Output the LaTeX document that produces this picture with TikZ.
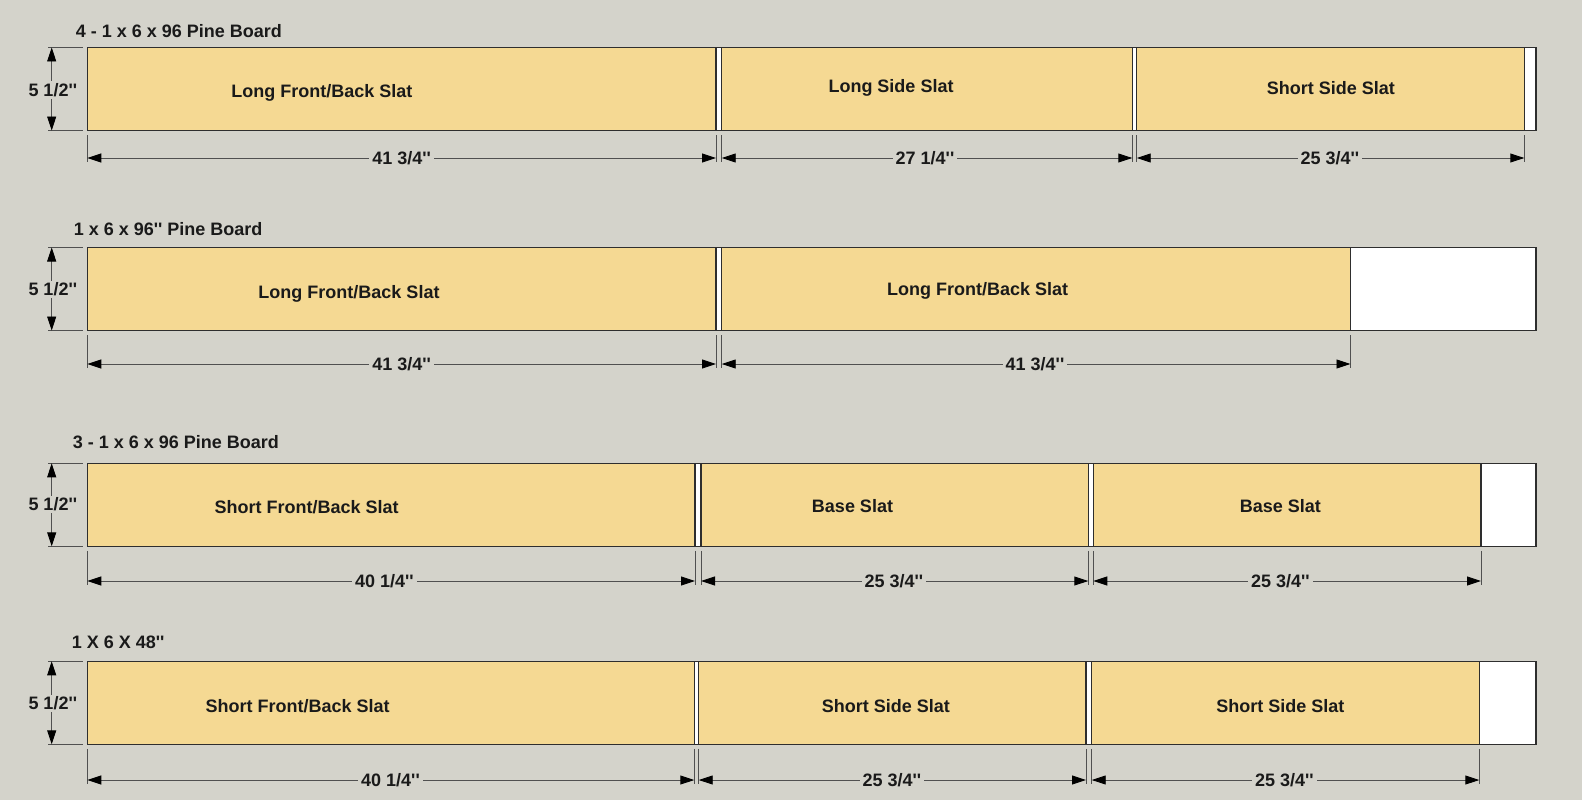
\documentclass[tikz,border=0pt]{standalone}
\usepackage{fontspec}
\newfontfamily\arial{Liberation Sans}
\usetikzlibrary{arrows.meta}
\definecolor{bg}{HTML}{D4D3CB}
\definecolor{pine}{HTML}{F5D993}
\definecolor{edge}{HTML}{2E2E2E}
\definecolor{dimc}{HTML}{505050}
\definecolor{txt}{HTML}{1A1A1A}
\tikzset{
  boardbox/.style={draw=edge, fill=white, line width=1.3pt, inner sep=0pt, outer sep=0pt, anchor=north west, minimum height=83pt},
  slatbox/.style={boardbox, fill=pine},
  lbl/.style={font=\arial\bfseries\fontsize{18}{20}\selectfont, text=txt, inner sep=0pt},
  slatlbl/.style={lbl, yshift=-1.6pt},
  titlelbl/.style={lbl, anchor=west},
  dimlbl/.style={lbl, fill=bg, inner xsep=3pt, inner ysep=2pt},
  tip/.tip={Triangle[length=14pt,width=9pt,color=black]},
  dimline/.style={draw=dimc, line width=0.9pt, tip-tip},
  extline/.style={draw=dimc, line width=0.8pt}
}
% slat: name, x1, x2, top
\newcommand\slatnode[4]{\node[slatbox, minimum width={(#3-#2)*1pt}] (#1) at (#2,#4) {};}
\newcommand\boardnode[4]{\node[boardbox, minimum width={(#3-#2)*1pt}] (#1) at (#2,#4) {};}
% hdim: name, x1, x2, bottom, dimy, labelx, text
\newcommand\hdim[7]{%
  \coordinate (#1a) at (#2,#5);
  \coordinate (#1b) at (#3,#5);
  \coordinate (#1a0) at (#2,#4+4.5);
  \coordinate (#1b0) at (#3,#4+4.5);
  \coordinate (#1a1) at (#2,#5+4);
  \coordinate (#1b1) at (#3,#5+4);
  \draw[extline] (#1a0) -- (#1a1);
  \draw[extline] (#1b0) -- (#1b1);
  \draw[dimline] (#1a) -- (#1b);
  \node[dimlbl] (#1t) at (#6,#5) {#7};
}
% vdim: name, top, bottom, labely
\newcommand\vdim[4]{%
  \coordinate (#1t0) at (48,#2);
  \coordinate (#1t1) at (83,#2);
  \coordinate (#1b0) at (48,#3);
  \coordinate (#1b1) at (83,#3);
  \coordinate (#1a) at (51.7,#2);
  \coordinate (#1b) at (51.7,#3);
  \draw[extline] (#1t0) -- (#1t1);
  \draw[extline] (#1b0) -- (#1b1);
  \draw[dimline] (#1a) -- (#1b);
  \node[dimlbl, inner xsep=1pt] (#1l) at (52.8,#4) {5 1/2''};
}
\begin{document}
\begin{tikzpicture}[x=1pt,y=-1pt]
\fill[bg] (0,0) rectangle (1582,800);
\useasboundingbox (0,0) rectangle (1582,800);

% ---------- Row 1 ----------
\node[titlelbl] (t1) at (75.7,31) {4 - 1 x 6 x 96 Pine Board};
\boardnode{b1}{87.3}{1536}{47.5}
\slatnode{s11}{87.3}{716}{47.5}
\slatnode{s12}{721.7}{1132.3}{47.5}
\slatnode{s13}{1136.7}{1524.3}{47.5}
\node[slatlbl] (l11) at (321.8,91.5) {Long Front/Back Slat};
\node[slatlbl] (l12) at (891,86.5) {Long Side Slat};
\node[slatlbl] (l13) at (1330.8,86.5) {Short Side Slat};
\vdim{v1}{47.5}{130.5}{90}
\hdim{d11}{87.3}{716}{130.5}{158}{401.6}{41 3/4''}
\hdim{d12}{721.7}{1132.3}{130.5}{158}{925}{27 1/4''}
\hdim{d13}{1136.7}{1524.3}{130.5}{158}{1329.8}{25 3/4''}

% ---------- Row 2 ----------
\node[titlelbl] (t2) at (73.6,229.5) {1 x 6 x 96'' Pine Board};
\boardnode{b2}{87.3}{1536}{247.5}
\slatnode{s21}{87.3}{716}{247.5}
\slatnode{s22}{721.7}{1350.5}{247.5}
\node[slatlbl] (l21) at (349,292.5) {Long Front/Back Slat};
\node[slatlbl] (l22) at (977.7,289.5) {Long Front/Back Slat};
\vdim{v2}{247.5}{330.5}{289.5}
\hdim{d21}{87.3}{716}{330.5}{364}{401.6}{41 3/4''}
\hdim{d22}{721.7}{1350.5}{330.5}{364}{1035}{41 3/4''}

% ---------- Row 3 ----------
\node[titlelbl] (t3) at (72.6,442) {3 - 1 x 6 x 96 Pine Board};
\boardnode{b3}{87.3}{1536}{463.3}
\slatnode{s31}{87.3}{695}{463.3}
\slatnode{s32}{701}{1088.3}{463.3}
\slatnode{s33}{1093.3}{1481}{463.3}
\node[slatlbl] (l31) at (306.7,505.5) {Short Front/Back Slat};
\node[slatlbl] (l32) at (852.5,504.5) {Base Slat};
\node[slatlbl] (l33) at (1280.4,504.5) {Base Slat};
\vdim{v3}{463.3}{546.3}{504.5}
\hdim{d31}{87.3}{695}{546.3}{581}{384.4}{40 1/4''}
\hdim{d32}{701}{1088.3}{546.3}{581}{893.9}{25 3/4''}
\hdim{d33}{1093.3}{1481}{546.3}{581}{1280.4}{25 3/4''}

% ---------- Row 4 ----------
\node[titlelbl] (t4) at (71.7,642) {1 X 6 X 48''};
\boardnode{b4}{87.3}{1536}{661.3}
\slatnode{s41}{87.3}{694.3}{661.3}
\slatnode{s42}{698.7}{1086}{661.3}
\slatnode{s43}{1091.7}{1479.3}{661.3}
\node[slatlbl] (l41) at (297.6,704.2) {Short Front/Back Slat};
\node[slatlbl] (l42) at (885.8,704.2) {Short Side Slat};
\node[slatlbl] (l43) at (1280.4,704.2) {Short Side Slat};
\vdim{v4}{661.3}{744.3}{703.5}
\hdim{d41}{87.3}{694.3}{744.3}{780}{390.5}{40 1/4''}
\hdim{d42}{698.7}{1086}{744.3}{780}{891.9}{25 3/4''}
\hdim{d43}{1091.7}{1479.3}{744.3}{780}{1284.4}{25 3/4''}
\end{tikzpicture}
\end{document}
